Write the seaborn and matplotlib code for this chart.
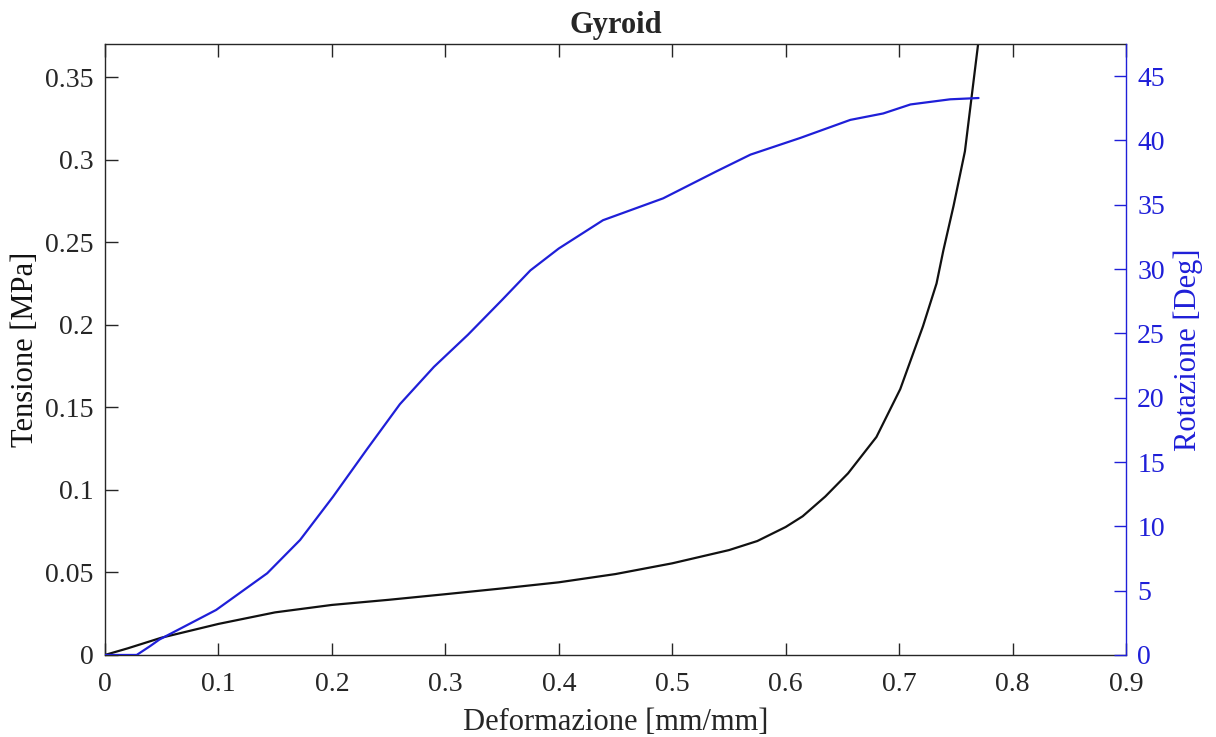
import matplotlib
matplotlib.use("Agg")
import matplotlib.pyplot as plt
import seaborn as sns

# stress curve (left axis)
strain_s = [0.0, 0.02, 0.05, 0.1, 0.15, 0.2, 0.25, 0.3, 0.35, 0.4, 0.45, 0.5,
            0.55, 0.575, 0.6, 0.615, 0.635, 0.655, 0.68, 0.701, 0.721, 0.733,
            0.739, 0.748, 0.758, 0.77]
stress = [0.0, 0.004, 0.0105, 0.0188, 0.0258, 0.0303, 0.0334, 0.0368, 0.0403,
          0.0440, 0.049, 0.0555, 0.0635, 0.069, 0.0775, 0.084, 0.096, 0.110,
          0.132, 0.161, 0.199, 0.225, 0.245, 0.272, 0.305, 0.372]

# rotation curve (right axis)
strain_r = [0.0, 0.028, 0.04, 0.048, 0.098, 0.143, 0.172, 0.201, 0.231, 0.26,
            0.29, 0.32, 0.35, 0.375, 0.4, 0.439, 0.492, 0.539, 0.569, 0.613,
            0.657, 0.686, 0.71, 0.745, 0.77]
rotation = [0.0, 0.0, 0.7, 1.2, 3.5, 6.35, 8.94, 12.3, 16.0, 19.5, 22.4, 24.9,
            27.6, 29.9, 31.6, 33.8, 35.5, 37.6, 38.9, 40.2, 41.6, 42.1, 42.8,
            43.2, 43.3]

blue = "#1f1fd8"

sns.set_theme(style="ticks")
plt.rcParams["font.family"] = ["Liberation Serif", "DejaVu Serif"]
plt.rcParams["mathtext.fontset"] = "stix"

fig = plt.figure(figsize=(12.16, 7.37), dpi=100)
ax = fig.add_axes([0.0863, 0.1113, 0.8397, 0.829])

sns.lineplot(x=strain_s, y=stress, ax=ax, color="#111111", linewidth=1.6)
ax.set_xlim(0, 0.9)
ax.set_ylim(0, 0.37)
ax.set_xticks([0, 0.1, 0.2, 0.3, 0.4, 0.5, 0.6, 0.7, 0.8, 0.9])
ax.set_xticklabels(["0", "0.1", "0.2", "0.3", "0.4", "0.5", "0.6", "0.7", "0.8", "0.9"])
ax.set_yticks([0, 0.05, 0.1, 0.15, 0.2, 0.25, 0.3, 0.35])
ax.set_yticklabels(["0", "0.05", "0.1", "0.15", "0.2", "0.25", "0.3", "0.35"])
ax.tick_params(axis="both", direction="in", length=9, width=1.0,
               labelsize=20, colors="#262626")
ax.tick_params(axis="x", top=True, pad=12)
ax.tick_params(axis="y", right=False, pad=8)
for s in ax.spines.values():
    s.set_linewidth(1.0)
    s.set_color("#262626")
ax.spines["right"].set_visible(False)

ax.set_xlabel("Deformazione [mm/mm]", fontsize=22, color="#262626", labelpad=8)
ax.set_ylabel("Tensione [MPa]", fontsize=22, color="#111111", labelpad=4)
# explicit y turns off matplotlib's automatic title placement
ax.set_title("Gyroid", fontsize=22, fontweight="bold", y=1.0, pad=8)

ax2 = ax.twinx()
sns.lineplot(x=strain_r, y=rotation, ax=ax2, color=blue, linewidth=1.6)
ax2.set_ylim(0, 47.5)
ax2.set_yticks(list(range(0, 50, 5)))
ax2.set_yticklabels([str(v) for v in range(0, 50, 5)])
ax2.tick_params(axis="y", direction="in", length=9, width=1.0,
                labelsize=20, colors=blue, pad=8)
for side in ["left", "top", "bottom"]:
    ax2.spines[side].set_visible(False)
ax2.spines["right"].set_color(blue)
ax2.spines["right"].set_linewidth(1.0)
ax2.set_ylabel("Rotazione [Deg]", fontsize=22, color=blue, labelpad=6)

fig.savefig("out.png", dpi=100)
